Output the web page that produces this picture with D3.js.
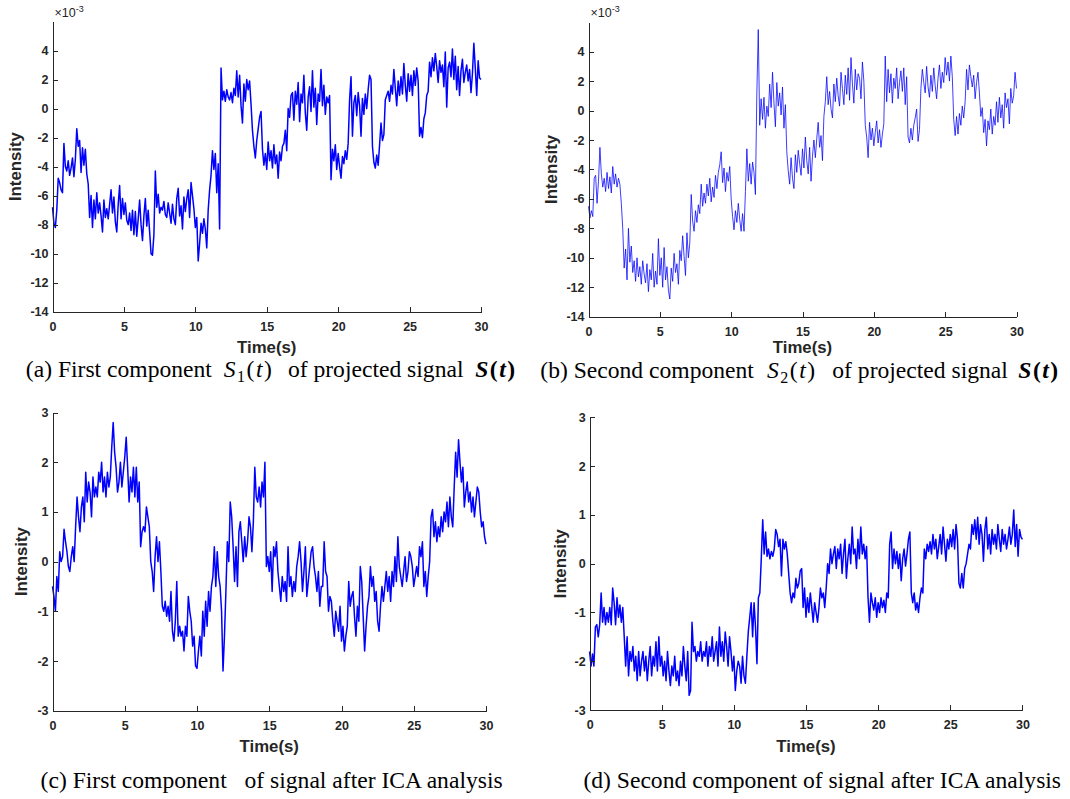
<!DOCTYPE html>
<html>
  <head>
    <meta charset="utf-8">
    <title>Projected signal and ICA components</title>
    <script src="https://d3js.org/d3.v7.min.js"></script>
    <style type="text/css">
      body {
          margin: 0;
          background: #ffffff;
      }

      .axis path,
      .axis line {
          stroke: #262626;
          stroke-width: 1;
          shape-rendering: crispEdges;
      }

      .axis text {
          font-family: "Liberation Sans", Arial, sans-serif;
          font-size: 12.5px;
          font-weight: bold;
          fill: #262626;
      }

      .label {
          font-family: "Liberation Sans", Arial, sans-serif;
          font-size: 16.8px;
          font-weight: bold;
          fill: #262626;
      }

      .caption {
          font-family: "Liberation Serif", "Times New Roman", serif;
          font-size: 23.6px;
          fill: #000000;
      }

      .signal {
          fill: none;
          stroke: #0000ff;
          stroke-linejoin: round;
      }
    </style>
  </head>
  <body>
    <script>
        // Sampling step of every signal (seconds), the samples start at 0 s
        var sampleStep = 0.1;

        // Tick labels
        var timeTicks = [0, 5, 10, 15, 20, 25, 30];
        var projectedTicks = [-14, -12, -10, -8, -6, -4, -2, 0, 2, 4];
        var icaTicks = [-3, -2, -1, 0, 1, 2, 3];

        // (a) first component S1(t) of the projected signal, in units of 1e-3
        var projectedFirst = [
            -6.8, -7.9, -8.2, -7.0, -4.8, -5.1, -5.6, -5.8, -2.4, -4.0,
            -4.3, -3.6, -4.6, -4.1, -3.4, -4.7, -3.5, -1.4, -2.6, -2.2,
            -4.4, -2.7, -3.9, -2.8, -4.5, -5.2, -7.5, -6.0, -8.2, -6.3,
            -7.6, -5.8, -7.2, -6.5, -7.4, -8.5, -6.3, -7.5, -6.9, -7.6,
            -6.6, -5.6, -7.2, -6.1, -7.8, -8.5, -6.6, -5.3, -7.6, -6.2,
            -7.3, -6.5, -7.7, -8.0, -7.2, -8.4, -7.0, -8.7, -7.1, -8.8,
            -7.6, -6.3, -8.0, -9.1, -7.4, -6.2, -8.1, -7.0, -8.5, -10.0,
            -10.1, -8.7, -4.3, -6.8, -5.9, -7.2, -6.8, -7.0, -6.4, -7.3,
            -7.5, -6.5, -7.2, -7.9, -6.6, -7.6, -8.0, -6.2, -5.5, -7.4,
            -6.7, -8.3, -6.1, -7.1, -6.2, -5.6, -7.5, -5.1, -6.0, -6.9,
            -8.2, -7.5, -10.5, -9.3, -7.9, -8.6, -7.6, -8.3, -9.6, -7.0,
            -5.6, -4.6, -2.9, -4.2, -3.1, -5.8, -3.8, -8.3, 2.8, 0.6,
            1.2, 0.5, 1.3, 0.8, 0.6, 1.1, 0.4, 1.4, 0.9, 2.6,
            0.8, 2.3, 0.2, -1.0, 1.7, 0.5, 2.0, 1.3, 1.9, 0.3,
            -1.5, -2.6, -3.4, -2.2, -1.4, -0.6, -0.2, -2.8, -3.9, -3.1,
            -4.2, -2.3, -3.6, -2.9, -4.1, -2.5, -3.8, -3.2, -4.8, -3.0,
            -3.6, -2.6, -2.4, -1.5, -2.9, 0.0, -0.6, 0.9, 1.1, -0.8,
            1.2, 0.3, 1.8, -0.9, 1.0, 0.4, 2.3, -0.3, -1.5, 0.8,
            1.5, -0.2, 2.6, 0.1, 1.4, -1.1, 1.0, 0.5, 2.7, 0.2,
            1.6, -0.4, 0.8, 0.4, 0.9, -4.9, -2.8, -3.6, -2.5, -4.2,
            -3.1, -4.0, -4.8, -3.3, -3.8, -2.9, -3.5, -2.4, 0.6, 2.2,
            -1.9, 0.4, 0.9, -0.5, 1.1, 0.2, -1.9, 0.7, -0.4, 1.0,
            0.0, 1.3, 2.3, 2.0, -2.6, -3.7, -4.1, -3.2, -3.9, -2.5,
            -1.0, -2.2, -1.8, 0.6, 0.9, 1.2, 0.5, 1.6, 1.0, 2.7,
            1.4, 0.2, 1.9, 0.9, 2.2, 1.0, 3.1, 1.6, 0.5, 2.4,
            1.2, 2.3, 0.9, 2.6, 1.6, 2.8, 1.9, -1.9, -1.3, -2.0,
            -0.7, -0.3, 0.9, 1.2, 3.2, 2.2, 3.5, 2.6, 3.8, 2.9,
            1.8, 3.3, 2.5, 3.0, 1.5, 3.9, 0.1, 2.8, 3.2, 2.2,
            4.1, 2.0, 3.6, 1.3, 2.9, 0.9, 2.6, 3.4, 1.8, 2.5,
            3.0, 1.9, 2.7, 1.1, 2.4, 4.5, 2.8, 0.9, 3.3, 2.1,
            2.0
        ];

        // (b) second component S2(t) of the projected signal, in units of 1e-3
        var projectedSecond = [
            -6.5, -7.3, -6.8, -7.2, -4.6, -4.4, -6.3, -4.8, -2.5, -4.3,
            -5.2, -4.6, -5.5, -4.2, -5.3, -4.5, -5.6, -3.8, -5.0, -4.3,
            -5.2, -4.6, -5.0, -6.3, -8.0, -10.7, -9.4, -11.5, -8.0, -10.3,
            -9.2, -11.0, -10.2, -11.6, -10.0, -11.3, -10.6, -11.8, -10.2, -11.1,
            -11.7, -10.4, -12.3, -10.8, -11.5, -9.7, -12.0, -10.9, -11.8, -8.7,
            -11.2, -10.0, -12.0, -9.3, -11.5, -10.6, -12.2, -12.8, -10.7, -11.6,
            -9.7, -11.0, -10.4, -11.8, -9.5, -10.2, -8.5, -9.9, -11.2, -8.3,
            -10.0, -9.0, -5.7, -7.5, -8.2, -6.8, -7.6, -6.4, -7.0, -5.0,
            -6.5, -5.6, -6.3, -5.0, -5.8, -4.6, -6.2, -5.2, -5.9, -4.4,
            -5.3, -4.2, -3.7, -2.8, -4.9, -3.9, -5.5, -4.2, -4.8, -3.8,
            -6.0, -7.2, -8.1, -6.8, -7.6, -6.3, -7.4, -8.2, -7.0, -8.2,
            -5.5, -2.6, -4.8, -3.6, -5.0, -3.5, -4.2, -5.7, 1.2, 5.5,
            -1.0, 0.8, -0.6, 0.9, -1.2, 0.3, -0.4, 1.8, 0.2, 2.6,
            0.5, -1.1, 1.9, 0.3, 1.2, -0.3, 1.6, -1.2, 0.4, -2.8,
            -4.1, -5.0, -3.2, -4.6, -5.3, -3.0, -4.2, -2.7, -3.6, -4.4,
            -2.6, -3.9, -1.8, -3.4, -4.3, -2.5, -4.8, -3.1, -2.0, -3.2,
            -1.9, -0.8, -2.5, -1.7, -3.4, -0.4, 0.6, 2.3, 0.4, 1.3,
            0.1, -0.5, 1.8, 0.6, 2.2, 1.0, 0.3, 2.6, 1.5, 0.4,
            2.4, 1.1, 2.9, 0.7, 3.6, 1.8, 0.5, 2.8, 1.4, 2.5,
            2.2, 0.8, 3.3, 2.0, -1.0, -1.8, -3.2, -0.8, -2.0, -1.2,
            -2.4, -1.5, -0.7, -2.2, -1.3, -2.5, -1.6, -0.9, 3.7, 0.6,
            2.8, 1.2, 2.5, 0.5, 2.2, 1.5, 2.9, 0.8, 1.9, 2.7,
            1.3, 2.9, 0.4, 2.3, -1.8, -2.2, -1.2, -2.0, -1.0, -0.5,
            0.1, -2.1, -1.3, 1.5, 2.8, 1.9, 1.2, 3.0, 1.6, 0.9,
            2.4, 1.3, 2.9, 1.7, 0.8, 2.2, 3.1, 1.5, 2.6, 1.9,
            3.6, 2.4, 3.3, 2.0, 3.7, 2.3, -0.6, -1.7, -0.4, -1.6,
            -0.2, -1.0, 0.3, -0.5, 0.6, 2.8, 1.4, 3.1, 2.3, 1.6,
            2.4, 0.8, 1.9, 2.6, 1.2, -0.4, 0.2, -1.5, -0.6, -2.4,
            -0.7, -1.3, 0.1, -1.6, -0.4, -1.0, 0.6, -0.8, 0.9, -0.5,
            0.4, -1.2, 1.2, 0.2, 0.8, -0.9, 1.5, 0.5, 1.0, 2.6,
            1.5
        ];

        // (c) first component after ICA analysis
        var icaFirst = [
            -0.5, -0.7, -1.0, -0.3, -0.6, 0.2, 0.0, 0.1, 0.65, 0.4,
            0.2, -0.1, -0.2, 0.1, 0.3, 0.0, 0.7, 1.3, 0.9, 0.6,
            1.1, 1.3, 0.8, 1.8, 1.2, 1.6, 1.4, 0.9, 1.7, 1.3,
            1.5, 1.3, 1.8, 1.6, 2.0, 1.4, 1.7, 1.3, 1.8, 1.5,
            1.7, 2.3, 2.8, 2.2, 1.9, 1.4, 1.6, 2.0, 1.5, 1.8,
            2.1, 2.5, 1.9, 1.2, 1.7, 1.4, 1.9, 1.3, 1.9, 1.2,
            1.6, 0.3, 0.6, 0.7, 0.6, 1.1, 0.9, 0.7, 0.0, -0.2,
            -0.6, 0.1, 0.5, 0.0, 0.4, -0.2, -0.9, -1.0, -0.8, -1.1,
            -0.9, -1.2, -0.6, -1.4, -1.6, -1.2, -0.4, -1.5, -1.3, -1.5,
            -1.4, -1.8, -1.3, -1.5, -0.7, -1.0, -1.2, -1.7, -1.5, -2.1,
            -2.15, -1.8, -1.5, -1.9, -1.0, -1.5, -0.8, -1.3, -0.6, -1.0,
            -0.5, -0.3, 0.3, -0.5, 0.2, -0.3, -0.5, -1.0, -2.2, -1.5,
            -0.6, 0.4, 0.0, 1.2, 0.9, 0.3, -0.4, 0.3, -0.5, 0.6,
            0.8, 0.4, 0.0, 0.5, 0.1, 0.4, 0.9, 0.7, 0.2, 0.8,
            1.9, 1.3, 1.2, 1.5, 1.1, 1.6, 1.3, 2.0, -0.1, 0.1,
            -0.2, 0.2, -0.6, 0.3, 0.1, 0.4, -0.2, -0.5, -0.8, -0.3,
            -0.6, -0.4, -0.8, 0.3, -0.5, -0.3, -0.7, -0.4, -0.6, -0.1,
            0.1, 0.4, 0.0, -0.6, -0.2, 0.3, -0.7, -0.4, -0.1, 0.2,
            0.3, -0.1, -0.3, -0.6, -0.2, -0.9, -0.5, -0.5, 0.4, -0.2,
            -0.3, -1.0, -0.7, -0.8, -1.2, -1.5, -1.0, -1.2, -1.4, -0.9,
            -1.6, -1.3, -1.8, -1.5, -1.3, -0.4, -0.9, -0.7, -0.6, -1.1,
            -1.5, -0.9, -1.2, -0.1, -0.4, -1.1, -1.8, -1.3, -0.9, -0.7,
            -0.1, -0.5, -0.3, -0.8, -0.6, -1.2, -1.4, -0.9, -0.5, -0.8,
            -0.5, -0.2, -0.6, -0.3, -0.8, -0.2, -0.5, 0.1, -0.4, 0.5,
            -0.1, -0.3, -0.5, -0.2, 0.1, -0.4, -0.2, 0.2, 0.1, -0.1,
            -0.5, -0.3, -0.1, -0.3, 0.3, 0.1, 0.4, -0.5, -0.2, -0.7,
            -0.3, 0.0, 0.9, 1.05, 0.5, 0.8, 0.4, 0.7, 0.5, 0.9,
            0.6, 1.0, 0.8, 1.2, 0.7, 1.3, 0.9, 0.7, 1.5, 2.2,
            1.7, 2.45, 2.0, 1.6, 1.9, 1.1, 1.4, 1.6, 1.2, 1.4,
            1.0, 1.3, 0.9, 1.2, 1.5, 1.4, 1.0, 0.7, 0.8, 0.5,
            0.35
        ];

        // (d) second component after ICA analysis
        var icaSecond = [
            -1.8, -2.1, -1.85, -2.1, -1.3, -1.25, -1.5, -1.25, -0.6, -1.2,
            -0.9, -1.25, -1.0, -1.2, -0.9, -1.25, -0.5, -0.8, -1.25, -0.7,
            -1.1, -0.85, -1.2, -0.9, -1.5, -2.1, -1.5, -2.3, -1.8, -2.0,
            -1.7, -2.2, -1.9, -2.4, -1.8, -2.3, -2.0, -1.8, -2.2, -1.9,
            -2.4, -2.0, -1.7, -2.3, -1.9, -2.1, -1.6, -2.2, -1.5, -2.1,
            -1.9, -2.3, -2.0, -2.4, -1.8, -2.2, -2.5, -2.1, -2.3, -1.9,
            -2.4, -2.2, -2.5, -2.0, -2.3, -1.7, -2.1, -2.4, -1.8, -2.7,
            -2.6, -1.2, -1.8, -1.7, -2.0, -1.8, -1.9, -1.6, -2.0, -1.8,
            -1.9, -1.6, -2.1, -1.7, -1.9, -1.5, -2.0, -1.8, -1.6, -2.1,
            -1.3, -1.9, -1.6, -2.0, -1.4, -1.7, -2.1, -1.5, -1.8, -2.2,
            -1.9, -2.6, -2.2, -2.0, -2.1, -2.45, -1.9, -2.3, -2.45, -1.9,
            -1.4, -1.1, -0.8, -1.5, -0.8, -1.3, -2.05, -0.7, -0.6, 0.1,
            0.9, 0.2, 0.65, 0.15, 0.3, 0.1, 0.25, 0.15, 0.3, 0.7,
            0.6, 0.35, 0.5, -0.25, 0.5, 0.3, 0.45, 0.2, -0.2, -0.6,
            -0.8, -0.6, -0.7, -0.3, -0.5, -0.4, -0.15, -0.1, -0.9, -0.5,
            -1.1, -0.7, -1.0, -0.6, -0.9, -1.2, -0.8, -1.0, -1.2, -0.9,
            -0.5, -0.7, -0.6, -0.9, -0.5, 0.0, -0.2, 0.3, 0.0, 0.2,
            0.35, -0.1, 0.3, 0.1, 0.4, -0.2, 0.2, 0.5, -0.3, 0.1,
            0.4, 0.0, 0.75, 0.2, 0.3, -0.1, 0.5, 0.1, 0.75, 0.2,
            0.4, 0.1, 0.35, -0.7, -1.2, -0.6, -0.8, -0.95, -0.7, -1.1,
            -0.8, -1.0, -0.7, -0.9, -0.75, -1.0, -0.6, -0.7, 0.4, 0.65,
            -0.1, 0.3, 0.0, 0.25, -0.1, 0.2, -0.35, 0.1, 0.3, -0.05,
            0.2, 0.5, 0.65, -0.6, -0.8, -0.6, -0.95, -0.8, -1.0, -0.7,
            -0.5, -0.6, 0.3, 0.1, 0.4, 0.25, 0.45, 0.2, 0.6, 0.3,
            0.5, 0.1, 0.35, 0.6, 0.2, 0.75, 0.4, 0.05, 0.5, 0.3,
            0.6, 0.35, 0.7, 0.3, 0.8, 0.5, -0.4, -0.5, -0.2, -0.5,
            -0.1, 0.0, 0.2, 0.4, 0.3, 0.8, 0.6, 0.9, 0.5, 0.95,
            0.4, 0.8, 0.6, 0.05, 0.7, 0.95, 0.3, 0.6, 0.2, 0.7,
            0.4, 0.6, 0.3, 0.8, 0.5, 0.25, 0.7, 0.4, 0.6, 0.3,
            0.5, 0.75, 0.4, 0.6, 1.1, 0.35, 0.8, 0.15, 0.7, 0.55,
            0.5
        ];

        // Define the svg
        var svgWidth = 1070;
        var svgHeight = 799;
        var svg = d3.select("body")
                    .append("svg")
                    .attr("width", svgWidth)
                    .attr("height", svgHeight)
                    .style("display", "block");

        // Layout of the four panels (pixels). Caption pieces carry their own x
        // so the math parts sit where the original equation objects were.
        var panels = [
            {values: projectedFirst, left: 52.5, right: 481, top: 21.5, bottom: 311.7,
             yDomain: [-14, 6], yTicks: projectedTicks, exponent: true, width: 1.5,
             opacity: 1, labelOffset: 37, timeY: 352.7, captionY: 376.7,
             caption: [{t: "(a) First component", x: 25.8},
                       {t: "S", i: true, x: 223.8, math: true}, {t: "1", sub: true, math: true},
                       {t: "(", math: true}, {t: "t", i: true, math: true}, {t: ")", math: true},
                       {t: "of projected signal", x: 287.9},
                       {t: "S", i: true, b: true, x: 475.2, math: true}, {t: "(", b: true, math: true},
                       {t: "t", i: true, b: true, math: true}, {t: ")", b: true, math: true}]},
            {values: projectedSecond, left: 588.5, right: 1016.5, top: 22.2, bottom: 316.7,
             yDomain: [-14, 6], yTicks: projectedTicks, exponent: true, width: 0.9,
             opacity: 0.85, labelOffset: 37, timeY: 352.7, captionY: 378.3,
             caption: [{t: "(b) Second component", x: 540.3},
                       {t: "S", i: true, x: 767, math: true}, {t: "2", sub: true, math: true},
                       {t: "(", math: true}, {t: "t", i: true, math: true}, {t: ")", math: true},
                       {t: "of projected signal", x: 832.3},
                       {t: "S", i: true, b: true, x: 1018.3, math: true}, {t: "(", b: true, math: true},
                       {t: "t", i: true, b: true, math: true}, {t: ")", b: true, math: true}]},
            {values: icaFirst, left: 52.5, right: 486, top: 412.5, bottom: 710.7,
             yDomain: [-3, 3], yTicks: icaTicks, exponent: false, width: 1.5,
             opacity: 1, labelOffset: 31, timeY: 751.7, captionY: 788.3,
             caption: [{t: "(c) First component", x: 40.6},
                       {t: "of signal after ICA analysis", x: 244.5}]},
            {values: icaSecond, left: 589.6, right: 1022.4, top: 417.3, bottom: 710,
             yDomain: [-3, 3], yTicks: icaTicks, exponent: false, width: 1.5,
             opacity: 1, labelOffset: 29.6, timeY: 751.7, captionY: 788.3,
             caption: [{t: "(d) Second component of signal after ICA analysis", x: 583.4}]}
        ];

        panels.forEach(function(panel) {
            drawPanel(svg, panel);
        });

        // Plain hyphen minus, like the matlab figure
        function tickLabel(d) {
            return String(d);
        }

        function drawPanel(svg, panel) {

            // Scales
            var xScale = d3.scaleLinear()
                           .domain([0, 30])
                           .range([panel.left, panel.right]);

            var yScale = d3.scaleLinear()
                           .domain(panel.yDomain)
                           .range([panel.bottom, panel.top]);

            // Signal line
            var line = d3.line()
                         .x(function(d, i) { return xScale(i * sampleStep); })
                         .y(function(d) { return yScale(d); });

            svg.append("path")
               .datum(panel.values)
               .attr("class", "signal")
               .attr("stroke-width", panel.width)
               .attr("stroke-opacity", panel.opacity)
               .attr("d", line);

            // Axes, ticks pointing inwards like matlab
            var xAxis = d3.axisBottom(xScale)
                          .tickValues(timeTicks)
                          .tickFormat(tickLabel)
                          .tickSizeInner(-5)
                          .tickSizeOuter(0)
                          .tickPadding(10);

            svg.append("g")
               .attr("class", "axis")
               .attr("transform", "translate(0," + panel.bottom + ")")
               .call(xAxis);

            var yAxis = d3.axisLeft(yScale)
                          .tickValues(panel.yTicks)
                          .tickFormat(tickLabel)
                          .tickSizeInner(-5)
                          .tickSizeOuter(0)
                          .tickPadding(4);

            svg.append("g")
               .attr("class", "axis")
               .attr("transform", "translate(" + panel.left + ",0)")
               .call(yAxis);

            // Axis labels
            svg.append("text")
               .attr("class", "label")
               .attr("x", (panel.left + panel.right) / 2)
               .attr("y", panel.timeY)
               .attr("text-anchor", "middle")
               .text("Time(s)");

            svg.append("text")
               .attr("class", "label")
               .attr("transform", "translate(" + (panel.left - panel.labelOffset) + "," + ((panel.top + panel.bottom) / 2) + ") rotate(-90)")
               .attr("dy", "0.35em")
               .attr("text-anchor", "middle")
               .text("Intensity");

            // Exponent of the y axis
            if (panel.exponent) {
                var expo = svg.append("text")
                              .attr("x", panel.left + 2)
                              .attr("y", 17.3)
                              .attr("font-family", "Liberation Sans, Arial, sans-serif")
                              .attr("font-size", "12.5px")
                              .attr("fill", "#262626");
                expo.append("tspan").text("\u00D710");
                expo.append("tspan")
                    .attr("font-size", "9px")
                    .attr("dy", -5)
                    .text("-3");
            }

            // Caption below the panel
            var caption = svg.append("text")
                             .attr("class", "caption")
                             .attr("y", panel.captionY);

            var afterSub = false;
            panel.caption.forEach(function(part) {
                var span = caption.append("tspan").text(part.t);
                if (part.x !== undefined) {
                    span.attr("x", part.x);
                }
                if (part.math) {
                    span.attr("letter-spacing", "1.5px");
                }
                if (part.i) {
                    span.attr("font-style", "italic");
                }
                if (part.b) {
                    span.attr("font-weight", "bold");
                }
                if (part.sub) {
                    span.attr("font-size", "16px").attr("dy", 5);
                    afterSub = true;
                } else if (afterSub) {
                    span.attr("dy", -5);
                    afterSub = false;
                }
            });
        }

    </script>
  </body>
</html>
